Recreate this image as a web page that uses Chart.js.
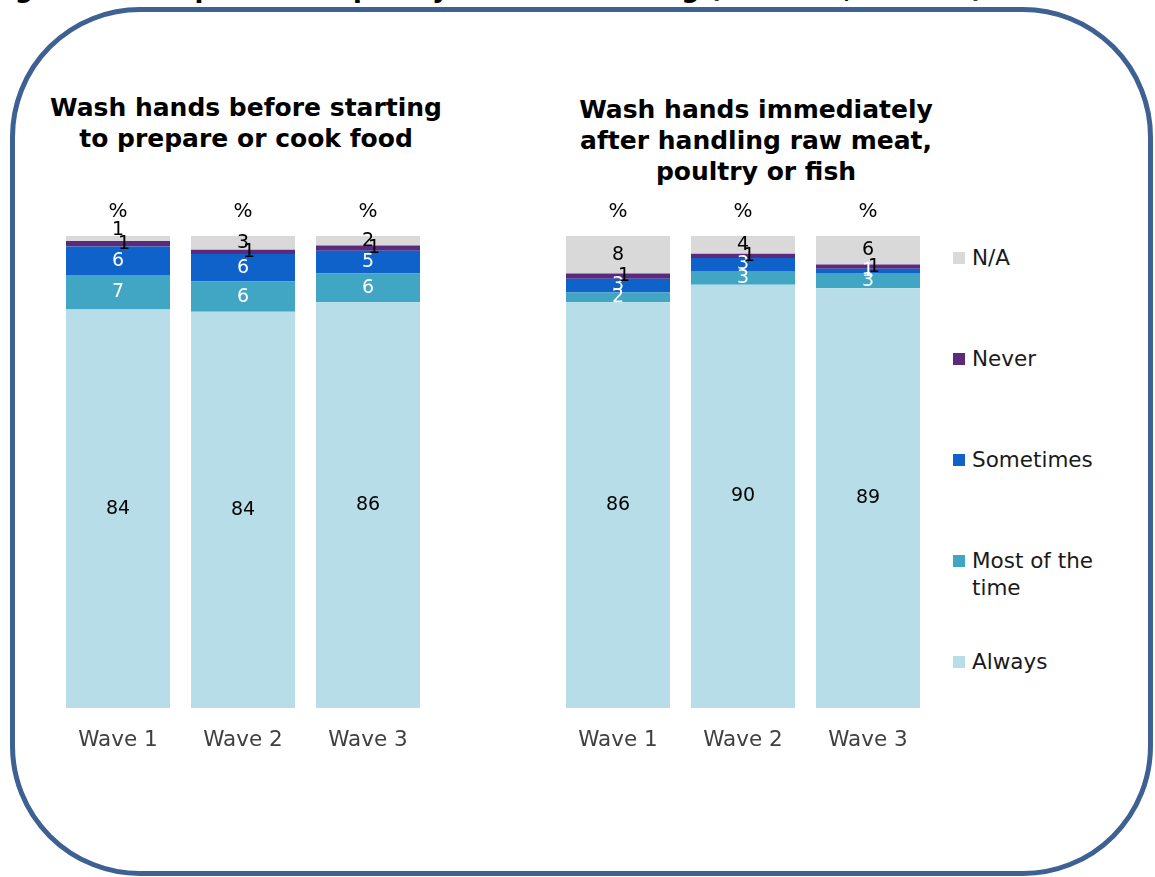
<!DOCTYPE html>
<html>

<head>
    <meta charset="utf-8">
    <title>Hand washing frequency</title>
    <style>
        body {
            margin: 0;
            width: 1155px;
            height: 877px;
            background-color: white;
            font-family: "DejaVu Sans", sans-serif;
            position: relative;
            overflow: hidden;
        }

        .frame {
            position: absolute;
            left: 10px;
            top: 7px;
            width: 1143px;
            height: 869px;
            box-sizing: border-box;
            border: 5px solid #3d6192;
            border-radius: 130px;
        }

        .fig-title {
            position: absolute;
            left: -12px;
            top: -25px;
            white-space: nowrap;
            font-weight: bold;
            font-size: 26px;
            line-height: 26px;
            color: #000;
        }

        .chart-title {
            position: absolute;
            font-weight: bold;
            font-size: 25px;
            line-height: 31px;
            text-align: center;
            color: #000;
        }

        canvas {
            position: absolute;
        }

        #legend {
            position: absolute;
            left: 953px;
            top: 244px;
        }

        .legend-item {
            position: relative;
            height: 101px;
        }

        .legend-box {
            position: absolute;
            left: 0;
            top: 8px;
            width: 12px;
            height: 12px;
        }

        .legend-text {
            margin-left: 19px;
            width: 140px;
            font-size: 21.5px;
            line-height: 27px;
            color: #1a1a1a;
        }
    </style>
</head>

<body>
    <div class="fig-title">Figure 4.1: Reported frequency of hand washing (Waves 1, 2 and 3)</div>
    <div class="frame"></div>

    <div class="chart-title" style="left:36px; top:92px; width:420px;">Wash hands before starting<br>to prepare or cook food</div>
    <div class="chart-title" style="left:546px; top:94px; width:420px;">Wash hands immediately<br>after handling raw meat,<br>poultry or fish</div>

    <canvas id="beforeChart" width="395" height="570" style="left:45px; top:190px;"></canvas>
    <canvas id="afterChart" width="395" height="570" style="left:545px; top:190px;"></canvas>

    <div id="legend"></div>

    <script src="https://cdn.jsdelivr.net/npm/chart.js"></script>
    <script>
        // categories and top labels
        const waves = ['Wave 1', 'Wave 2', 'Wave 3'];
        const pctLabels = ['%', '%', '%'];

        // series, bottom of the stack first
        const seriesNames = ['Always', 'Most of the time', 'Sometimes', 'Never', 'N/A'];
        const seriesColors = ['#b7dee8', '#41a6c4', '#0f62c9', '#5b2a7d', '#d9d9d9'];
        const labelColors = ['#000', '#fff', '#fff', '#000', '#000'];

        // Wash hands before starting to prepare or cook food (%)
        const beforeAlways = [84.4, 83.9, 85.9];
        const beforeMost = [7.3, 6.4, 6.1];
        const beforeSometimes = [6.0, 5.8, 4.8];
        const beforeNever = [1.2, 0.9, 1.1];
        const beforeNA = [1.1, 3.0, 2.1];

        // Wash hands immediately after handling raw meat, poultry or fish (%)
        const afterAlways = [85.9, 89.6, 88.9];
        const afterMost = [2.1, 2.9, 3.2];
        const afterSometimes = [2.9, 2.8, 0.9];
        const afterNever = [1.1, 0.9, 0.9];
        const afterNA = [8.0, 3.8, 6.1];

        Chart.defaults.font.family = '"DejaVu Sans", sans-serif';

        // value labels inside each segment
        const segmentLabels = {
            id: 'segmentLabels',
            afterDatasetsDraw(chart) {
                const ctx = chart.ctx;
                ctx.save();
                ctx.font = '19px "DejaVu Sans"';
                ctx.textAlign = 'center';
                ctx.textBaseline = 'middle';
                chart.data.datasets.forEach((ds, i) => {
                    chart.getDatasetMeta(i).data.forEach((bar, j) => {
                        let x = bar.x;
                        let y = (bar.y + bar.base) / 2;
                        if (ds.label === 'Never') x += 6;
                        if (ds.label === 'N/A' && bar.base - bar.y < 8) y = bar.y - 6;
                        ctx.fillStyle = ds.labelColor;
                        ctx.fillText(Math.round(ds.data[j]), x, y);
                    });
                });
                ctx.restore();
            }
        };

        function makeChart(id, seriesData) {
            const datasets = seriesData.map((data, i) => ({
                label: seriesNames[i],
                data: data,
                backgroundColor: seriesColors[i],
                labelColor: labelColors[i],
                borderWidth: 0,
                barPercentage: 0.832,
                categoryPercentage: 1
            }));

            return new Chart(document.getElementById(id), {
                type: 'bar',
                data: { labels: waves, datasets: datasets },
                options: {
                    responsive: false,
                    animation: false,
                    devicePixelRatio: 1,
                    layout: { padding: { left: 10.5, right: 9.5, top: 0, bottom: 0 } },
                    plugins: {
                        legend: { display: false },
                        tooltip: { enabled: false }
                    },
                    scales: {
                        x: {
                            stacked: true,
                            position: 'bottom',
                            grid: { display: false },
                            border: { display: false },
                            ticks: { font: { size: 21.5 }, color: '#404040', padding: 12 },
                            afterFit: (s) => { s.height = 52; }
                        },
                        xTop: {
                            type: 'category',
                            axis: 'x',
                            labels: pctLabels,
                            position: 'top',
                            offset: true,
                            grid: { display: false },
                            border: { display: false },
                            ticks: { font: { size: 20 }, color: '#000', padding: 4 },
                            afterFit: (s) => { s.height = 45.7; }
                        },
                        y: {
                            stacked: true,
                            display: false,
                            min: 0,
                            max: 100
                        }
                    }
                },
                plugins: [segmentLabels]
            });
        }

        makeChart('beforeChart', [beforeAlways, beforeMost, beforeSometimes, beforeNever, beforeNA]);
        makeChart('afterChart', [afterAlways, afterMost, afterSometimes, afterNever, afterNA]);

        // legend, top item first
        const legend = document.getElementById('legend');
        for (let i = seriesNames.length - 1; i >= 0; i--) {
            const item = document.createElement('div');
            item.className = 'legend-item';
            item.innerHTML = '<span class="legend-box" style="background:' + seriesColors[i] + '"></span>' +
                '<div class="legend-text">' + seriesNames[i] + '</div>';
            legend.appendChild(item);
        }
    </script>
</body>

</html>
